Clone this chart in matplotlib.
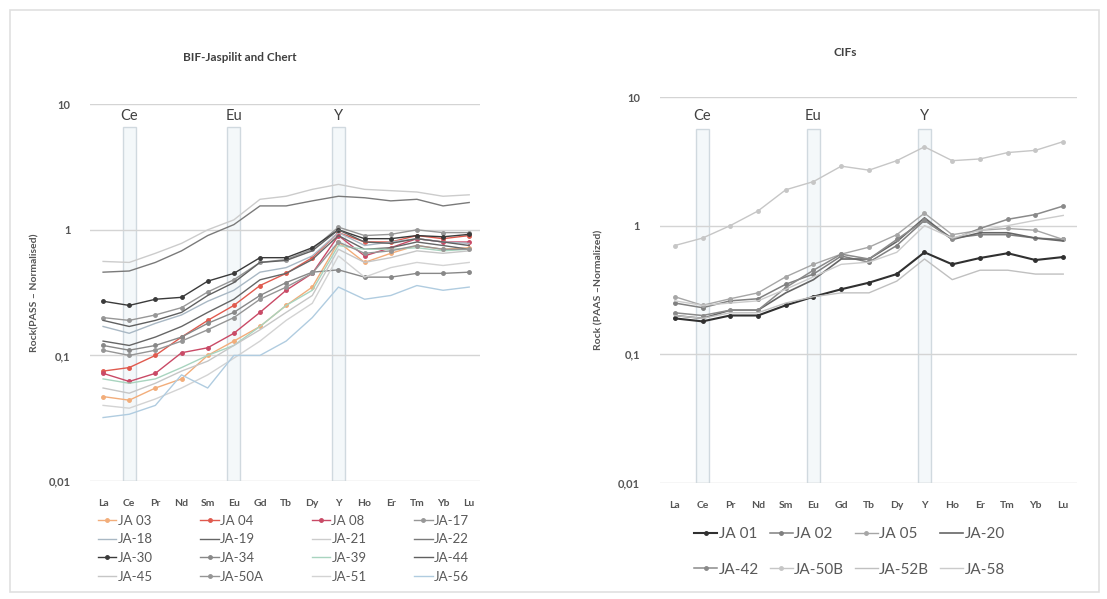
import numpy as np
import matplotlib.pyplot as plt
from matplotlib.patches import Rectangle

plt.rcParams['font.family'] = ['Lato', 'DejaVu Sans']

elements = ['La', 'Ce', 'Pr', 'Nd', 'Sm', 'Eu', 'Gd', 'Tb', 'Dy', 'Y', 'Ho', 'Er', 'Tm', 'Yb', 'Lu']
anomalies = ['Ce', 'Eu', 'Y']

# BIF-Jaspilit and Chert samples (PAAS normalised)
bif_names = ['JA 03', 'JA 04', 'JA 08', 'JA-17', 'JA-18', 'JA-19', 'JA-21', 'JA-22',
             'JA-30', 'JA-34', 'JA-39', 'JA-44', 'JA-45', 'JA-50A', 'JA-51', 'JA-56']
ja03 = [0.047, 0.044, 0.055, 0.065, 0.10, 0.13, 0.17, 0.25, 0.35, 0.80, 0.55, 0.65, 0.75, 0.70, 0.72]
ja04 = [0.075, 0.080, 0.100, 0.140, 0.19, 0.25, 0.36, 0.45, 0.60, 0.95, 0.80, 0.80, 0.90, 0.85, 0.90]
ja08 = [0.072, 0.062, 0.072, 0.105, 0.115, 0.15, 0.22, 0.33, 0.45, 0.90, 0.62, 0.72, 0.85, 0.80, 0.80]
ja17 = [0.20, 0.19, 0.21, 0.24, 0.32, 0.40, 0.55, 0.58, 0.70, 1.05, 0.90, 0.92, 1.00, 0.95, 0.95]
ja18 = [0.17, 0.15, 0.18, 0.21, 0.27, 0.33, 0.46, 0.50, 0.62, 0.95, 0.75, 0.80, 0.85, 0.80, 0.78]
ja19 = [0.13, 0.12, 0.14, 0.17, 0.22, 0.28, 0.40, 0.45, 0.58, 0.90, 0.70, 0.72, 0.80, 0.75, 0.70]
ja21 = [0.56, 0.55, 0.65, 0.78, 1.00, 1.20, 1.75, 1.85, 2.10, 2.30, 2.10, 2.05, 2.00, 1.85, 1.90]
ja22 = [0.46, 0.47, 0.55, 0.68, 0.90, 1.10, 1.55, 1.55, 1.70, 1.85, 1.80, 1.70, 1.75, 1.55, 1.65]
ja30 = [0.27, 0.25, 0.28, 0.29, 0.39, 0.45, 0.60, 0.60, 0.72, 1.00, 0.85, 0.85, 0.90, 0.88, 0.92]
ja34 = [0.12, 0.11, 0.12, 0.14, 0.18, 0.22, 0.30, 0.38, 0.46, 0.48, 0.42, 0.42, 0.45, 0.45, 0.46]
ja39 = [0.065, 0.060, 0.065, 0.08, 0.10, 0.12, 0.17, 0.25, 0.33, 0.75, 0.70, 0.70, 0.72, 0.68, 0.70]
ja44 = [0.19, 0.17, 0.19, 0.22, 0.30, 0.38, 0.55, 0.57, 0.68, 1.00, 0.80, 0.78, 0.85, 0.80, 0.75]
ja45 = [0.055, 0.050, 0.060, 0.075, 0.09, 0.12, 0.16, 0.22, 0.30, 0.70, 0.55, 0.60, 0.68, 0.65, 0.68]
ja50a = [0.11, 0.10, 0.11, 0.13, 0.16, 0.20, 0.28, 0.35, 0.45, 0.80, 0.65, 0.68, 0.75, 0.70, 0.70]
ja51 = [0.040, 0.038, 0.045, 0.055, 0.07, 0.095, 0.13, 0.19, 0.26, 0.62, 0.42, 0.50, 0.55, 0.52, 0.55]
ja56 = [0.032, 0.034, 0.040, 0.070, 0.055, 0.10, 0.10, 0.13, 0.20, 0.35, 0.28, 0.30, 0.36, 0.33, 0.35]
bif_values = [ja03, ja04, ja08, ja17, ja18, ja19, ja21, ja22,
              ja30, ja34, ja39, ja44, ja45, ja50a, ja51, ja56]
bif_colors = ['#f2ad7a', '#e05a4e', '#c94a66', '#979797', '#a9b8c4', '#666666', '#cccccc', '#7a7a7a',
              '#3a3a3a', '#888888', '#a8d4bf', '#606060', '#c6c6c6', '#959595', '#d3d3d3', '#b0cce0']
bif_markers = ['o', 'o', 'o', 'o', '', '', '', '',
               'o', 'o', '', '', '', 'o', '', '']

# CIF samples
cif_names = ['JA 01', 'JA 02', 'JA 05', 'JA-20', 'JA-42', 'JA-50B', 'JA-52B', 'JA-58']
ja01 = [0.19, 0.18, 0.20, 0.20, 0.24, 0.28, 0.32, 0.36, 0.42, 0.62, 0.50, 0.56, 0.61, 0.54, 0.57]
ja02 = [0.25, 0.23, 0.26, 0.27, 0.35, 0.42, 0.58, 0.52, 0.70, 1.10, 0.80, 0.85, 0.85, 0.80, 0.78]
ja05 = [0.28, 0.24, 0.27, 0.30, 0.40, 0.50, 0.60, 0.68, 0.85, 1.25, 0.85, 0.92, 0.95, 0.92, 0.78]
ja20 = [0.20, 0.19, 0.22, 0.22, 0.30, 0.38, 0.55, 0.55, 0.75, 1.15, 0.78, 0.88, 0.88, 0.80, 0.76]
ja42 = [0.21, 0.20, 0.22, 0.22, 0.33, 0.45, 0.60, 0.55, 0.78, 1.10, 0.78, 0.95, 1.12, 1.22, 1.42]
ja50b = [0.70, 0.80, 1.00, 1.30, 1.90, 2.20, 2.90, 2.70, 3.20, 4.10, 3.20, 3.30, 3.70, 3.85, 4.50]
ja52b = [0.20, 0.19, 0.21, 0.21, 0.25, 0.28, 0.30, 0.30, 0.37, 0.55, 0.38, 0.45, 0.45, 0.42, 0.42]
ja58 = [0.26, 0.24, 0.25, 0.26, 0.32, 0.40, 0.50, 0.52, 0.62, 1.00, 0.80, 0.92, 1.00, 1.10, 1.20]
cif_values = [ja01, ja02, ja05, ja20, ja42, ja50b, ja52b, ja58]
cif_colors = ['#303030', '#808080', '#a6a6a6', '#666666', '#8a8a8a', '#c6c6c6', '#c0c0c0', '#cbcbcb']
cif_markers = ['o', 'o', 'o', '', 'o', 'o', '', '']
cif_widths = [1.5, 1.1, 1.0, 1.2, 1.1, 1.0, 1.0, 1.0]

fig = plt.figure(figsize=(11.07, 5.99), dpi=100)
fig.patches.append(Rectangle((0.009, 0.012), 0.984, 0.972, transform=fig.transFigure,
                             fill=False, edgecolor='#e0e0e0', linewidth=1.2))

x = np.arange(len(elements))


def setup(ax, xlim, box_top, label_y, ylabel, lab_x):
    ax.set_yscale('log')
    ax.set_ylim(0.01, 10)
    ax.set_xlim(*xlim)
    for s in ax.spines.values():
        s.set_visible(False)
    ax.yaxis.grid(True, color='#d4d4d4', linewidth=1)
    ax.set_yticks([0.01, 0.1, 1, 10])
    ax.set_yticklabels(['0,01', '0,1', '1', '10'], fontweight='bold')
    ax.yaxis.set_minor_locator(plt.NullLocator())
    ax.tick_params(axis='y', length=0, pad=14, labelsize=8, labelcolor='#555555')
    ax.set_xticks(x)
    ax.set_xticklabels(elements, fontweight='bold')
    ax.tick_params(axis='x', length=0, pad=13, labelsize=7.5, labelcolor='#555555')
    for el in anomalies:
        i = elements.index(el)
        ax.add_patch(Rectangle((i - 0.25, 0.01), 0.5, box_top - 0.01, facecolor='#eef4f7',
                               edgecolor='#b5c3cc', linewidth=1, alpha=0.6, zorder=1))
        ax.text(i, label_y, el, ha='center', va='center', fontsize=10.5, color='#404040')
    ax.set_ylabel(ylabel, fontsize=7.5, color='#555555', fontweight='bold')
    ax.yaxis.set_label_coords(lab_x, 0.5)


def row_major(handles, labels, ncol):
    nrow = int(np.ceil(len(handles) / ncol))
    order = [r * ncol + c for c in range(ncol) for r in range(nrow) if r * ncol + c < len(handles)]
    return [handles[i] for i in order], [labels[i] for i in order]


ax1 = fig.add_axes([0.0813, 0.197, 0.352, 0.629])
setup(ax1, (-0.5, 14.4), 6.6, 8.0, 'Rock(PASS – Normalised)', -0.13)
for name, vals, c, m in zip(bif_names, bif_values, bif_colors, bif_markers):
    ax1.plot(x, vals, color=c, marker=m, markersize=2.5, linewidth=1.0, label=name, zorder=3)
fig.text(0.217, 0.898, 'BIF-Jaspilit and Chert', ha='center', fontsize=8.5,
         fontweight='bold', color='#404040')
h, l = row_major(*ax1.get_legend_handles_labels(), 4)
ax1.legend(h, l, loc='upper left', bbox_to_anchor=(-0.01, -0.058), ncol=4, frameon=False,
           fontsize=9.5, handlelength=1.4, handletextpad=0.1, columnspacing=3.6,
           labelspacing=0.5, labelcolor='#595959')

ax2 = fig.add_axes([0.596, 0.194, 0.377, 0.644])
setup(ax2, (-0.54, 14.5), 5.6, 7.1, 'Rock (PAAS –Normalized)', -0.135)
for name, vals, c, m, w in zip(cif_names, cif_values, cif_colors, cif_markers, cif_widths):
    ax2.plot(x, vals, color=c, marker=m, markersize=2.5, linewidth=w, label=name, zorder=3)
fig.text(0.764, 0.907, 'CIFs', ha='center', fontsize=8.5, fontweight='bold', color='#404040')
h, l = row_major(*ax2.get_legend_handles_labels(), 4)
ax2.legend(h, l, loc='upper left', bbox_to_anchor=(0.05, -0.08), ncol=4, frameon=False,
           fontsize=11, handlelength=1.5, handletextpad=0.1, columnspacing=0.7,
           labelspacing=1.4, labelcolor='#595959')

fig.savefig('out.png', dpi=100)
